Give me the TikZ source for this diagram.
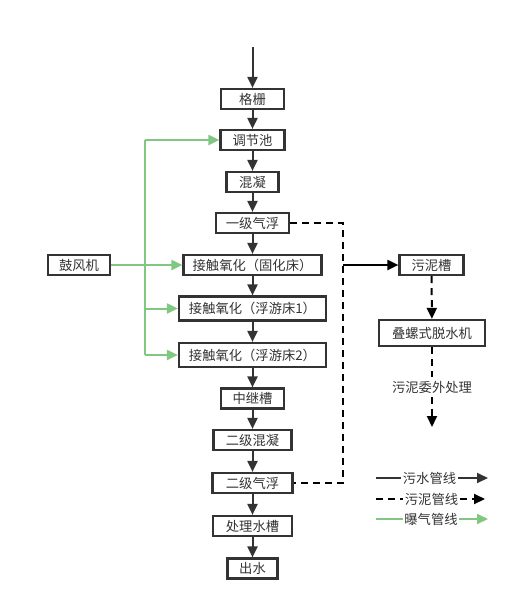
\documentclass[tikz,border=0pt]{standalone}
\usepackage{fontspec}
\setmainfont{Noto Sans CJK SC}
\usetikzlibrary{arrows.meta}
\definecolor{ln}{HTML}{333333}
\definecolor{gr}{HTML}{80C882}
\begin{document}
\begin{tikzpicture}[x=1pt,y=-1pt, font=\fontsize{13.3}{15}\selectfont, text=ln,
 box/.style={draw=ln, line width=2.2pt, minimum height=20pt, inner sep=0pt},
 flow/.style={draw=ln, line width=2pt, -{Triangle[length=11pt,width=10pt]}},
 sludge/.style={draw=black, line width=2pt, dash pattern=on 7pt off 5pt},
 sludgearr/.style={sludge, -{Triangle[length=11pt,width=10pt]}},
 air/.style={draw=gr, line width=2pt},
 airarr/.style={air, -{Triangle[length=11pt,width=10pt]}},
 lab/.style={inner sep=1.5pt}]
\useasboundingbox (0,0) rectangle (518,611);
\node[box, minimum width=63pt] (gs) at (252.5,99) {格栅};
\node[box, minimum width=64pt] (tj) at (252.5,140) {调节池};
\node[box, minimum width=52pt] (hn) at (252.5,182) {混凝};
\node[box, minimum width=73pt] (yj) at (252.5,223) {一级气浮};
\node[box, minimum width=62pt] (gf) at (79,265) {鼓风机};
\node[box, minimum width=138pt] (c1) at (252.5,265) {接触氧化（固化床）};
\node[box, minimum width=147pt, minimum height=24pt] (c2) at (252.5,308.5) {接触氧化（浮游床1）};
\node[box, minimum width=147pt, minimum height=24pt] (c3) at (252.5,355) {接触氧化（浮游床2）};
\node[box, minimum width=63pt] (zj) at (252.5,398.5) {中继槽};
\node[box, minimum width=78pt] (ej) at (252.5,440) {二级混凝};
\node[box, minimum width=80pt] (eq) at (252.5,483) {二级气浮};
\node[box, minimum width=79pt] (cl) at (252.5,526) {处理水槽};
\node[box, minimum width=50pt] (cs) at (252.5,568.5) {出水};
\node[box, minimum width=64pt] (wn) at (431.5,265) {污泥槽};
\node[box, minimum width=106pt, minimum height=26pt] (dl) at (432,333) {叠螺式脱水机};
\node (ww) at (432,387) {污泥委外处理};
\coordinate (in) at (252.5,47);
\coordinate (out) at (432,427);
% main flow
\draw[flow] (in) -- (gs);
\draw[flow] (gs) -- (tj);
\draw[flow] (tj) -- (hn);
\draw[flow] (hn) -- (yj);
\draw[flow] (yj) -- (c1);
\draw[flow] (c1) -- (c2);
\draw[flow] (c2) -- (c3);
\draw[flow] (c3) -- (zj);
\draw[flow] (zj) -- (ej);
\draw[flow] (ej) -- (eq);
\draw[flow] (eq) -- (cl);
\draw[flow] (cl) -- (cs);
% sludge
\coordinate (d1) at (343,223);
\coordinate (d2) at (343,483);
\coordinate (dj) at (343,265);
\draw[sludge] (yj.east) -- (d1) -- (d2) -- (eq.east);
\draw[flow, draw=black] (dj) -- (wn.west);
\draw[sludgearr] (wn) -- (dl);
\draw[sludge] (dl) -- (ww);
\draw[sludgearr] (ww) -- (out);
% air
\coordinate (ga) at (145,140);
\coordinate (g2) at (145,308.5);
\coordinate (gb) at (145,355);
\draw[air] (ga) -- (gb);
\draw[airarr] (ga) -- (tj.west);
\draw[airarr] (gf.east) -- (c1.west);
\draw[airarr] (g2) -- (c2.west);
\draw[airarr] (gb) -- (c3.west);
% legend
\node[lab] (l1) at (429.5,478) {污水管线};
\node[lab] (l2) at (431.5,499) {污泥管线};
\node[lab] (l3) at (431,519) {曝气管线};
\coordinate (l1a) at (376,478);
\coordinate (l1b) at (488,478);
\coordinate (l2a) at (376,499);
\coordinate (l2b) at (485,499);
\coordinate (l3a) at (376,519);
\coordinate (l3b) at (488,519);
\draw[draw=ln, line width=2pt] (l1a) -- (l1.west);
\draw[flow] (l1.east) -- (l1b);
\draw[sludge] (l2a) -- (l2.west);
\draw[sludgearr] (l2.east) -- (l2b);
\draw[air] (l3a) -- (l3.west);
\draw[airarr] (l3.east) -- (l3b);
\end{tikzpicture}
\end{document}
